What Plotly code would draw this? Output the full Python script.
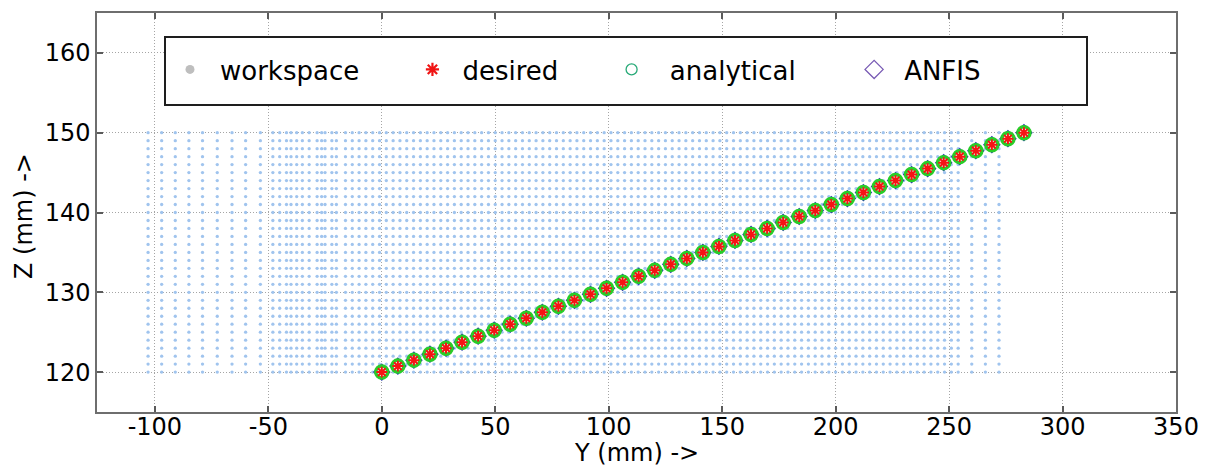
import plotly.graph_objects as go

# ---------------- data ----------------
# workspace grid (columns in Y, rows in Z)
ws_cols = [-103, -97, -91, -85, -79, -72.5, -66, -60, -53.5, -48, -45, -42, -40, -37.5,
           -35, -32, -28.5, -26.5, -25, -22, -20, -16, -13, -10, -7, -4, -1, 2, 5, 8, 11,
           14, 17, 20, 23, 26, 29, 32, 35, 38, 41, 44, 47, 50, 53, 56, 59, 62, 65, 68,
           71, 74, 77, 80, 83, 86, 89, 92, 95, 98, 101, 104, 107, 110, 113, 116, 119,
           122, 125, 128, 131, 134, 137, 140, 143, 146, 149, 152, 155, 158, 161, 164,
           167, 170, 173, 176, 179, 182, 185, 188, 191, 194, 197, 200, 203, 206, 209,
           212, 215, 218, 221, 224, 227, 230, 233, 236, 239, 242, 245, 248, 251, 254,
           260, 266, 272]
ws_rows = [120, 121, 122, 123, 124, 125, 126, 127, 128, 129, 130, 131, 132, 133, 134,
           135, 136, 137, 138, 139, 140, 141, 142, 143, 144, 145, 146, 147, 148, 149, 150]

# desired trajectory
traj_y = [0, 7.08, 14.15, 21.23, 28.3, 35.38, 42.45, 49.53, 56.6, 63.68, 70.75, 77.83,
          84.9, 91.98, 99.05, 106.13, 113.2, 120.28, 127.35, 134.43, 141.5, 148.58,
          155.65, 162.73, 169.8, 176.88, 183.95, 191.03, 198.1, 205.18, 212.25, 219.33,
          226.4, 233.48, 240.55, 247.63, 254.7, 261.78, 268.85, 275.93, 283.0]
traj_z = [120, 120.75, 121.5, 122.25, 123, 123.75, 124.5, 125.25, 126, 126.75, 127.5,
          128.25, 129, 129.75, 130.5, 131.25, 132, 132.75, 133.5, 134.25, 135, 135.75,
          136.5, 137.25, 138, 138.75, 139.5, 140.25, 141, 141.75, 142.5, 143.25, 144,
          144.75, 145.5, 146.25, 147, 147.75, 148.5, 149.25, 150]
# analytical / ANFIS solutions (coincide with the desired points)
analytical_y = list(traj_y)
analytical_z = list(traj_z)
anfis_y = list(traj_y)
anfis_z = list(traj_z)

x_ticks = [-100, -50, 0, 50, 100, 150, 200, 250, 300, 350]
y_ticks = [120, 130, 140, 150, 160]

series_names = ["workspace", "desired", "analytical", "ANFIS"]

# ---------------- figure ----------------
W, H = 1206, 466
ML, MR, MT, MB = 97, 30, 13, 54
FONT = "DejaVu Sans"

ws_x = [c for r in ws_rows for c in ws_cols]
ws_z = [r for r in ws_rows for c in ws_cols]

fig = go.Figure()
fig.add_trace(go.Scatter(x=ws_x, y=ws_z, mode="markers", showlegend=False,
                         marker=dict(size=3.3, color="rgb(160,196,238)", line=dict(width=0)),
                         hoverinfo="skip"))
fig.add_trace(go.Scatter(x=anfis_y, y=anfis_z, mode="markers", showlegend=False,
                         marker=dict(symbol="diamond-open", size=12, color="rgb(40,60,170)",
                                     line=dict(width=1.5, color="rgb(40,60,170)"))))
fig.add_trace(go.Scatter(x=analytical_y, y=analytical_z, mode="markers", showlegend=False,
                         marker=dict(symbol="circle-open", size=12, color="rgb(40,205,40)",
                                     line=dict(width=3.5, color="rgb(40,205,40)"))))
fig.add_trace(go.Scatter(x=traj_y, y=traj_z, mode="markers", showlegend=False,
                         marker=dict(symbol="asterisk-open", size=9, color="rgb(245,20,20)",
                                     line=dict(width=2, color="rgb(245,20,20)"))))

# legend-only entries (legend glyphs differ from plotted glyphs in the original)
NB = "\u00a0"
TH = "\u2009"
legend_specs = [
    (series_names[0] + NB * 4 + TH, dict(symbol="circle", size=9, color="rgb(190,190,190)")),
    (series_names[1] + NB * 4 + TH, dict(symbol="asterisk-open", size=11,
                                         color="rgb(240,20,20)",
                                         line=dict(width=2.2, color="rgb(240,20,20)"))),
    (NB + series_names[2] + NB * 4 + TH * 2, dict(symbol="circle-open", size=11,
                                                  color="rgb(40,170,120)",
                                                  line=dict(width=1.3,
                                                            color="rgb(40,170,120)"))),
    (series_names[3], dict(symbol="diamond-open", size=14, color="rgb(120,90,180)",
                           line=dict(width=1.3, color="rgb(120,90,180)"))),
]
for nm, mk in legend_specs:
    fig.add_trace(go.Scatter(x=[None], y=[None], mode="markers", name=nm, marker=mk,
                             showlegend=True))

axis_common = dict(
    showline=True, linecolor="rgb(110,110,110)", linewidth=1.5, mirror="ticks",
    ticks="inside", ticklen=6, tickwidth=1.5, tickcolor="rgb(90,90,90)",
    showgrid=True, gridcolor="rgb(165,165,165)", griddash="1px,2px", gridwidth=1,
    zeroline=False, tickfont=dict(family=FONT, size=24, color="black"),
)

fig.update_xaxes(range=[-125.5, 350], tickvals=x_ticks, ticktext=[str(v) for v in x_ticks],
                 ticklabelstandoff=-8, **axis_common)
fig.update_yaxes(range=[115, 165], tickvals=y_ticks, ticktext=[str(v) for v in y_ticks],
                 **axis_common)

pw = W - ML - MR
ph = H - MT - MB
def px2paper_x(px):
    return (px - ML) / pw
def px2paper_y(py):
    return (H - MB - py) / ph

fig.add_shape(type="rect", xref="paper", yref="paper",
              x0=px2paper_x(165), x1=px2paper_x(1087), y0=px2paper_y(105), y1=px2paper_y(37),
              line=dict(color="rgb(30,30,30)", width=2), fillcolor="white", layer="above")

fig.update_layout(
    width=W, height=H,
    margin=dict(l=ML, r=MR, t=MT, b=MB, autoexpand=False),
    paper_bgcolor="white", plot_bgcolor="white",
    font=dict(family=FONT, color="black"),
    legend=dict(orientation="h", x=px2paper_x(160), y=px2paper_y(46), xanchor="left",
                yanchor="top", bgcolor="rgba(0,0,0,0)", borderwidth=0,
                font=dict(family=FONT, size=26, color="black"), itemsizing="trace",
                itemwidth=50),
    annotations=[
        dict(text="Y (mm) ->", xref="paper", yref="paper", x=0.5, y=px2paper_y(453),
             xanchor="center", yanchor="middle", showarrow=False,
             font=dict(family=FONT, size=24, color="black")),
        dict(text="Z (mm) ->", xref="paper", yref="paper", x=px2paper_x(24),
             y=px2paper_y(216), xanchor="center", yanchor="middle", showarrow=False,
             textangle=-90, font=dict(family=FONT, size=24, color="black")),
    ],
)

fig.write_html("out.html")
